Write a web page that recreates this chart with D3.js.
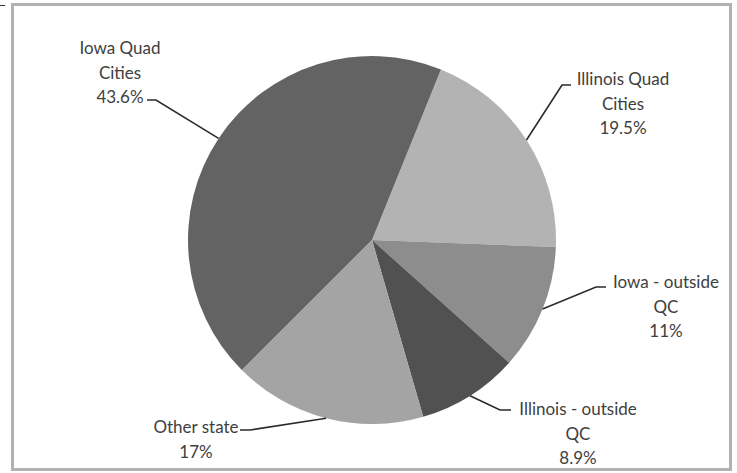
<!DOCTYPE html>
<html>
<head>
<meta charset="utf-8">
<script src="https://cdn.jsdelivr.net/npm/d3@7/dist/d3.min.js"></script>
<style>
  html, body { margin: 0; padding: 0; background: #fff; }
  svg text { font-family: Lato, "Open Sans", sans-serif; }
</style>
</head>
<body>
<svg id="chart" width="737" height="473"></svg>
<script>
// Share of respondents by location
const categories = ["Illinois Quad Cities", "Iowa - outside QC", "Illinois - outside QC", "Other state", "Iowa Quad Cities"];
const values = [19.5, 11, 8.9, 17, 43.6];
const valueLabels = ["19.5%", "11%", "8.9%", "17%", "43.6%"];
const labelLines = [["Illinois Quad", "Cities"], ["Iowa - outside", "QC"], ["Illinois - outside", "QC"], ["Other state"], ["Iowa Quad", "Cities"]];
const colors = ["#b3b3b3", "#8d8d8d", "#515151", "#a4a4a4", "#636363"];

const svg = d3.select("#chart");
const cx = 372, cy = 240, radius = 184;

// outer frame
svg.append("rect")
  .attr("x", 12.5).attr("y", 4.5).attr("width", 718).attr("height", 465)
  .attr("fill", "#fff").attr("stroke", "#b2b2b2").attr("stroke-width", 3);
svg.append("line").attr("x1", 0).attr("x2", 5).attr("y1", 5.5).attr("y2", 5.5)
  .attr("stroke", "#333").attr("stroke-width", 1);

const startOffset = 22 * Math.PI / 180;
const pie = d3.pie().sort(null).value(d => d)
  .startAngle(startOffset).endAngle(startOffset + 2 * Math.PI);
const arcs = pie(values);
const arc = d3.arc().innerRadius(0).outerRadius(radius);

const g = svg.append("g").attr("transform", `translate(${cx},${cy})`);
g.selectAll("path").data(arcs).join("path")
  .attr("d", arc)
  .attr("fill", (d, i) => colors[i]);

// label layout: elbow point, line end, text center and first baseline
const layout = [
  { elbow: [562, 85], end: [571, 85], tx: 623, ty: 85 },
  { elbow: [596, 287], end: [606, 287], tx: 666, ty: 288 },
  { elbow: [500, 410], end: [511, 410], tx: 578, ty: 415 },
  { elbow: [250, 430], end: [240, 430], tx: 196, ty: 433 },
  { elbow: [156, 100], end: [147, 100], tx: 120, ty: 54 }
];

arcs.forEach((a, i) => {
  const mid = (a.startAngle + a.endAngle) / 2;
  const sx = cx + radius * Math.sin(mid);
  const sy = cy - radius * Math.cos(mid);
  const L = layout[i];
  svg.append("polyline")
    .attr("points", [[sx, sy], L.elbow, L.end].map(p => p.join(",")).join(" "))
    .attr("fill", "none").attr("stroke", "#2b2b2b").attr("stroke-width", 1.6);
  const lines = labelLines[i].concat([valueLabels[i]]);
  const t = svg.append("text")
    .attr("text-anchor", "middle")
    .attr("font-size", 17)
    .attr("fill", "#404040");
  lines.forEach((s, k) => {
    t.append("tspan").attr("x", L.tx).attr("y", L.ty + k * 24.5).text(s);
  });
});
</script>
</body>
</html>
